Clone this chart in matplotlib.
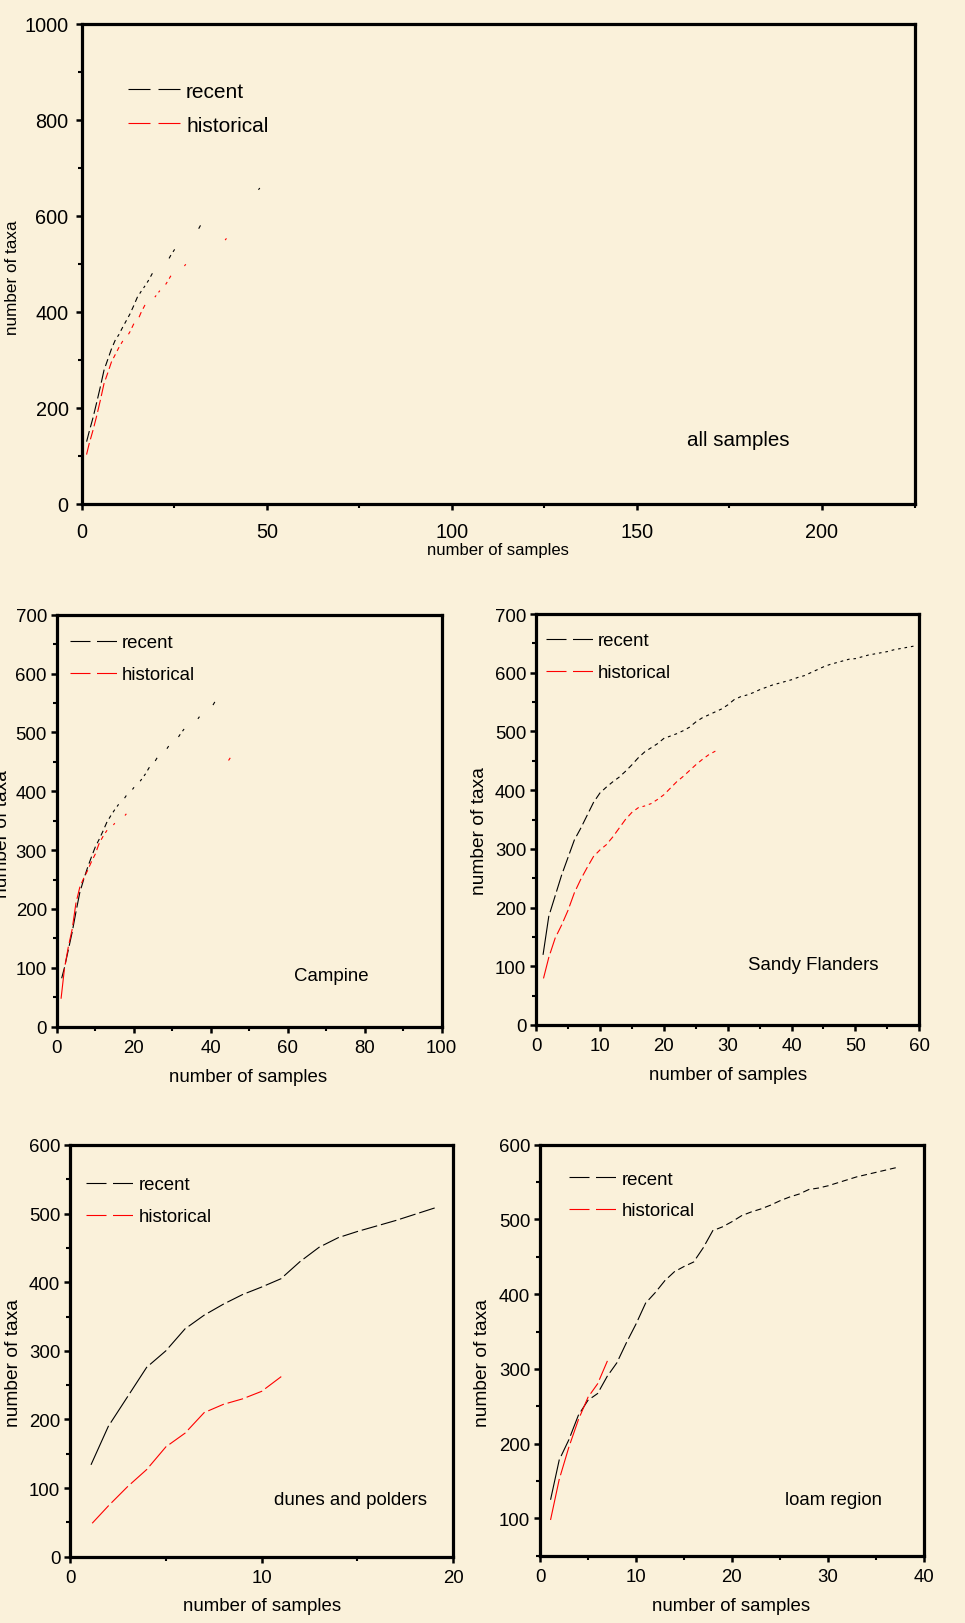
import matplotlib
matplotlib.use('Agg')
import matplotlib.pyplot as plt
import numpy as np
from matplotlib.ticker import MultipleLocator
from matplotlib.lines import Line2D

plt.rcParams['font.family'] = ['Liberation Sans', 'DejaVu Sans']
plt.rcParams['lines.scale_dashes'] = False

# ---------------- data ----------------
# all samples
all_rec_x = list(range(1, 49))
all_rec_y = [120, 150, 178, 210, 243, 278, 300, 322, 340, 352,
             367, 381, 395, 412, 430, 442, 453, 465, 479, 485,
             491, 497, 503, 517, 529, 535, 541, 547, 553, 559,
             565, 579, 584, 589, 593, 598, 602, 607, 611, 616,
             620, 625, 629, 634, 638, 643, 647, 657]
all_his_x = list(range(1, 40))
all_his_y = [93, 125, 152, 182, 215, 250, 272, 295, 310, 325,
             338, 345, 358, 374, 380, 398, 413, 418, 423, 433,
             443, 449, 461, 474, 479, 484, 488, 498, 503, 508,
             513, 518, 523, 527, 531, 535, 539, 542, 552]

# Campine
cam_rec_x = list(range(1, 42))
cam_rec_y = [75, 100, 130, 160, 195, 228, 250, 270, 288, 305,
             318, 332, 347, 358, 368, 377, 382, 392, 397, 406,
             411, 420, 429, 440, 445, 456, 461, 466, 476, 481,
             486, 496, 505, 509, 513, 517, 526, 531, 535, 540, 551]
cam_his_x = list(range(1, 46))
cam_his_y = [40, 98, 135, 165, 210, 237, 252, 265, 280, 293,
             311, 323, 333, 337, 345, 349, 353, 361, 365, 369,
             372, 376, 380, 383, 387, 390, 394, 397, 401, 404,
             408, 411, 414, 418, 421, 424, 427, 430, 433, 436,
             439, 442, 444, 446, 456]

# Sandy Flanders
sf_rec_x = list(range(1, 60))
sf_rec_y = [112, 185, 220, 255, 285, 315, 335, 357, 379, 395,
            405, 414, 422, 432, 443, 455, 465, 472, 479, 488,
            492, 496, 501, 507, 516, 523, 528, 533, 538, 545,
            554, 559, 562, 566, 571, 575, 579, 582, 585, 588,
            592, 595, 600, 605, 610, 614, 617, 620, 623, 624,
            627, 630, 632, 634, 636, 639, 641, 643, 645]
sf_his_x = list(range(1, 29))
sf_his_y = [72, 115, 148, 170, 195, 225, 248, 268, 287, 298,
            307, 320, 335, 350, 362, 370, 373, 377, 384, 392,
            403, 414, 423, 433, 443, 452, 460, 466]

# dunes and polders
dun_rec_x = list(range(1, 20))
dun_rec_y = [128, 190, 233, 276, 300, 332, 352, 368, 382, 393,
             405, 430, 451, 465, 474, 482, 490, 499, 508]
dun_his_x = list(range(1, 12))
dun_his_y = [44, 74, 102, 127, 160, 180, 210, 222, 230, 241, 262]

# loam region
loa_rec_x = list(range(1, 38))
loa_rec_y = [119, 178, 205, 238, 258, 267, 290, 308, 335, 360,
             388, 402, 418, 430, 437, 443, 462, 485, 490, 497,
             505, 510, 514, 519, 525, 530, 534, 540, 542, 545,
             549, 553, 557, 560, 563, 566, 569]
loa_his_x = list(range(1, 8))
loa_his_y = [92, 152, 195, 232, 262, 280, 310]

series_labels = ['recent', 'historical']
region_names = ['all samples', 'Campine', 'Sandy Flanders',
                'dunes and polders', 'loam region']

# ---------------- figure ----------------
W, H, DPI = 965, 1624, 100
BG = '#FAF1DA'
BLACK = '#000000'
RED = '#FF0000'
fig = plt.figure(figsize=(W / DPI, H / DPI), dpi=DPI, facecolor=BG)


def px2fig(x, y):
    return x / W, 1 - y / H


def add_ax(l, t, r, b):
    ax = fig.add_axes([l / W, 1 - b / H, (r - l) / W, (b - t) / H])
    ax.set_facecolor(BG)
    for s in ax.spines.values():
        s.set_linewidth(2.3)
        s.set_color('black')
    return ax


GAP = 5.0  # px gap at the start of every segment (Origin style dashes)


def draw_series(ax, xs, ys, color):
    pts = ax.transData.transform(np.column_stack([xs, ys]).astype(float))
    inv = ax.transData.inverted()
    for p0, p1 in zip(pts[:-1], pts[1:]):
        d = p1 - p0
        L = np.hypot(d[0], d[1])
        if L <= GAP:
            continue
        s = p0 + d * (GAP / L)
        seg = inv.transform(np.vstack([s, p1]))
        ax.plot(seg[:, 0], seg[:, 1], color=color, lw=0.8)


def style_ticks(ax, size, xmaj, xmin, ymaj, ymin, padx, pady):
    ax.xaxis.set_major_locator(MultipleLocator(xmaj))
    ax.xaxis.set_minor_locator(MultipleLocator(xmin))
    ax.yaxis.set_major_locator(MultipleLocator(ymaj))
    ax.yaxis.set_minor_locator(MultipleLocator(ymin))
    ax.tick_params(which='major', direction='out', length=4.5, width=1.8,
                   labelsize=size, colors='black')
    ax.tick_params(which='minor', direction='out', length=3, width=1.5)
    ax.tick_params(axis='x', which='major', pad=padx)
    ax.tick_params(axis='y', which='major', pad=pady)
    ax.tick_params(top=False, right=False)


def legend(x0, x1, y_rec, y_his, tx, size, on, off):
    for y, c, lab in [(y_rec, BLACK, series_labels[0]), (y_his, RED, series_labels[1])]:
        fx0, fy = px2fig(x0, y)
        fx1, _ = px2fig(x1, y)
        fig.add_artist(Line2D([fx0, fx1], [fy, fy], transform=fig.transFigure,
                              color=c, lw=0.8, dashes=(on * 0.72, off * 0.72)))
        fig.text(*px2fig(tx, y), lab, fontsize=size, ha='left', va='center_baseline')


def ftext(x, y, s, size, **kw):
    fig.text(*px2fig(x, y), s, fontsize=size, **kw)


# ---- top panel: all samples ----
ax0 = add_ax(81.8, 25, 914.5, 504.5)
ax0.set_xlim(0, 225)
ax0.set_ylim(0, 1000)
style_ticks(ax0, 14.3, 50, 25, 200, 100, padx=9, pady=5)
draw_series(ax0, all_rec_x, all_rec_y, BLACK)
draw_series(ax0, all_his_x, all_his_y, RED)
legend(128, 180, 90, 124.3, 186, 15, 22, 8)
ftext(738, 440, region_names[0], 14.8, ha='center', va='center')
ftext(12.4, 277.5, 'number of taxa', 12.3, rotation=90, ha='center', va='center')
ftext(498, 550, 'number of samples', 12, ha='center', va='center')

# ---- Campine ----
ax1 = add_ax(56.7, 615.7, 441.7, 1027.7)
ax1.set_xlim(0, 100)
ax1.set_ylim(0, 700)
style_ticks(ax1, 13.4, 20, 10, 100, 50, padx=4, pady=2.5)
draw_series(ax1, cam_rec_x, cam_rec_y, BLACK)
draw_series(ax1, cam_his_x, cam_his_y, RED)
legend(70.4, 117, 642, 674, 122.2, 13.4, 20, 6.5)
ftext(331.3, 976.4, region_names[1], 13.4, ha='center', va='center')
ftext(11, 833.6, 'number of taxa', 13.8, rotation=90, ha='right', va='center')
ftext(248.5, 1077, 'number of samples', 13.4, ha='center', va='center')

# ---- Sandy Flanders ----
ax2 = add_ax(536, 615, 919.3, 1026)
ax2.set_xlim(0, 60)
ax2.set_ylim(0, 700)
style_ticks(ax2, 13.4, 10, 5, 100, 50, padx=4, pady=2.5)
draw_series(ax2, sf_rec_x, sf_rec_y, BLACK)
draw_series(ax2, sf_his_x, sf_his_y, RED)
legend(545.7, 593.3, 640, 672, 597.5, 13.4, 20, 6.5)
ftext(812.8, 966, region_names[2], 13.4, ha='center', va='center')
ftext(479.4, 831.5, 'number of taxa', 13.8, rotation=90, ha='center', va='center')
ftext(728, 1075, 'number of samples', 13.4, ha='center', va='center')

# ---- dunes and polders ----
ax3 = add_ax(70, 1146, 453.3, 1557.7)
ax3.set_xlim(0, 20)
ax3.set_ylim(0, 600)
style_ticks(ax3, 13.4, 10, 5, 100, 50, padx=4, pady=2.5)
draw_series(ax3, dun_rec_x, dun_rec_y, BLACK)
draw_series(ax3, dun_his_x, dun_his_y, RED)
legend(86, 132.5, 1183.6, 1215.7, 138.8, 13.4, 20, 6.5)
ftext(350, 1500.3, region_names[3], 13.4, ha='center', va='center')
ftext(13.5, 1362.7, 'number of taxa', 13.8, rotation=90, ha='center', va='center')
ftext(262, 1607, 'number of samples', 13.4, ha='center', va='center')

# ---- loam region ----
ax4 = add_ax(540, 1145.7, 924, 1556.7)
ax4.set_xlim(0, 40)
ax4.set_ylim(50, 600)
style_ticks(ax4, 13.4, 10, 5, 100, 50, padx=4, pady=2.5)
draw_series(ax4, loa_rec_x, loa_rec_y, BLACK)
draw_series(ax4, loa_his_x, loa_his_y, RED)
legend(568.5, 616, 1178.4, 1209.5, 621.3, 13.4, 20, 6.5)
ftext(833.5, 1500.3, region_names[4], 13.4, ha='center', va='center')
ftext(482.5, 1362.7, 'number of taxa', 13.8, rotation=90, ha='center', va='center')
ftext(731, 1607, 'number of samples', 13.4, ha='center', va='center')

fig.savefig('out.png', dpi=DPI, facecolor=BG)
